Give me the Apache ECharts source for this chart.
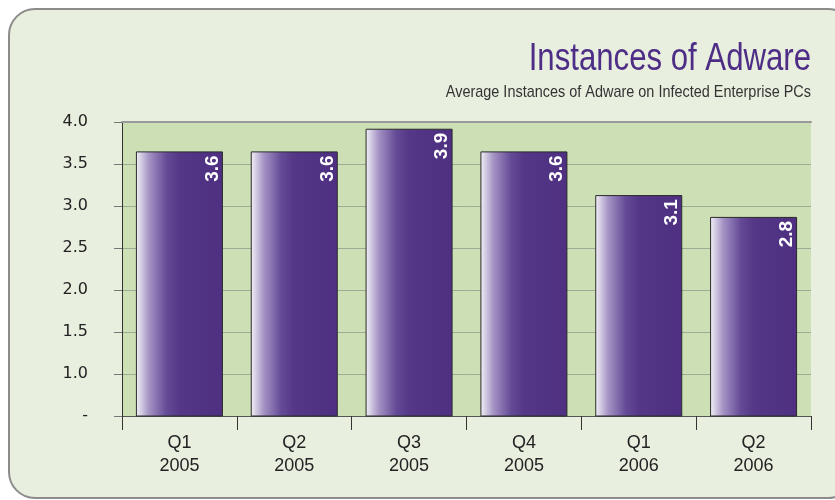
<!DOCTYPE html>
<html>
<head>
<meta charset="utf-8">
<script src="https://cdn.jsdelivr.net/npm/echarts@6/dist/echarts.min.js"></script>
<style>
html,body{margin:0;padding:0;background:#ffffff;}
#main{width:835px;height:500px;}
</style>
</head>
<body>
<div id="main"></div>
<script>
var titleText = 'Instances of Adware';
var subtitleText = 'Average Instances of Adware on Infected Enterprise PCs';
var categories = ['Q1\n2005', 'Q2\n2005', 'Q3\n2005', 'Q4\n2005', 'Q1\n2006', 'Q2\n2006'];
var values = [3.65, 3.65, 3.92, 3.65, 3.13, 2.87];
var barLabels = ['3.6', '3.6', '3.9', '3.6', '3.1', '2.8'];
var yMin = 0.5, yMax = 4.0, yStep = 0.5;

var chart = echarts.init(document.getElementById('main'), null, {renderer: 'canvas'});
var option = {
  animation: false,
  backgroundColor: '#ffffff',
  graphic: [{
    type: 'rect', z: -100, silent: true,
    shape: {x: 9, y: 9, width: 845, height: 489, r: 26},
    style: {fill: '#e8efdf', stroke: '#8c8c8c', lineWidth: 2}
  }, {
    type: 'text', z: 10, silent: true, x: 811, y: 60, scaleX: 0.82,
    style: {text: titleText, font: "normal 38px 'Liberation Sans', Arial, sans-serif", fill: '#4e2d86', textAlign: 'right', textVerticalAlign: 'middle'}
  }, {
    type: 'text', z: 10, silent: true, x: 811, y: 92, scaleX: 0.85,
    style: {text: subtitleText, font: "normal 17px 'Liberation Sans', Arial, sans-serif", fill: '#333333', textAlign: 'right', textVerticalAlign: 'middle'}
  }],
  grid: {left: 122, right: 24, top: 122, bottom: 84, show: true, backgroundColor: '#cde0b5', borderWidth: 0, containLabel: false},
  xAxis: [{
    type: 'category', data: categories, position: 'bottom',
    axisLine: {lineStyle: {color: '#555555', width: 1}},
    axisTick: {show: true, length: 14, lineStyle: {color: '#333333'}},
    axisLabel: {margin: 16, fontFamily: "'Liberation Sans', Arial, sans-serif", fontSize: 18, lineHeight: 23, color: '#222222'}
  }, {
    type: 'category', data: categories, position: 'top',
    axisLine: {lineStyle: {color: '#9a9a9a', width: 2}},
    axisTick: {show: false}, axisLabel: {show: false}
  }],
  yAxis: {
    type: 'value', min: yMin, max: yMax, interval: yStep,
    axisLine: {show: true, lineStyle: {color: '#333333', width: 1}},
    axisTick: {show: true, length: 8, lineStyle: {color: '#777777'}},
    splitLine: {show: true, lineStyle: {color: '#9dab97', width: 1}},
    axisLabel: {
      margin: 34, fontFamily: "'DejaVu Sans', Verdana, sans-serif", fontSize: 16, color: '#222222',
      formatter: function (v) { return Math.abs(v - yMin) < 1e-9 ? '-' : v.toFixed(1); }
    }
  },
  series: [{
    type: 'bar', data: values, barWidth: 87,
    itemStyle: {
      borderColor: '#2a2a2a', borderWidth: 1,
      color: {type: 'linear', x: 0, y: 0, x2: 1, y2: 0, colorStops: [
        {offset: 0, color: '#f4f2f8'},
        {offset: 0.15, color: '#a493c4'},
        {offset: 0.35, color: '#654b97'},
        {offset: 0.5, color: '#543786'},
        {offset: 1, color: '#4e2f81'}
      ]}
    },
    label: {
      show: true, position: ['88%', 4], rotate: 90, align: 'right', verticalAlign: 'middle',
      fontFamily: "'Liberation Sans', Arial, sans-serif", fontSize: 19, fontWeight: 'bold', color: '#ffffff',
      formatter: function (p) { return barLabels[p.dataIndex]; }
    }
  }]
};
chart.setOption(option);
</script>
</body>
</html>
